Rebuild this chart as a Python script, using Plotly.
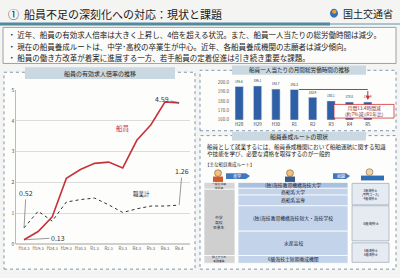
import plotly.graph_objects as go

# ---------------- data ----------------
line_categories = ["H14.3", "H19.3", "H24.3", "H29.3", "H30.3", "R1.3", "R2.3",
                   "R3.3", "R4.3", "R5.3", "R6.3", "R6.4"]
seamen_ratio = [0.13, 0.40, 0.88, 2.13, 2.42, 2.62, 2.66, 2.47, 3.37, 3.88, 4.62, 4.59]
all_jobs_ratio = [0.52, 1.06, 0.74, 1.36, 1.44, 1.49, 1.27, 1.02, 1.14, 1.23, 1.23, 1.26]
line_yticks = [0, 1, 2, 3, 4, 5]

bar_categories = ["H28", "H29", "H30", "R1", "R2", "R3", "R4", "R5"]
work_hours = [195.6, 196.1, 192.7, 192.3, 183.9, 180.1, 178.8, 178.9]
bar_yticks = [160, 170, 180, 190, 200]

FONT = "Noto Sans CJK JP"
W, H = 400, 278


def px(x):
    return x / W


def py(y):
    return 1 - y / H


fig = go.Figure()

# ---------------- line chart ----------------
fig.add_trace(go.Scatter(x=line_categories, y=all_jobs_ratio, mode="lines",
                         line=dict(color="#333333", width=1, dash="dot"),
                         xaxis="x", yaxis="y", showlegend=False))
fig.add_trace(go.Scatter(x=line_categories, y=seamen_ratio, mode="lines",
                         line=dict(color="#c8323c", width=1.6),
                         xaxis="x", yaxis="y", showlegend=False))

# ---------------- bar chart ----------------
fig.add_trace(go.Bar(x=bar_categories, y=work_hours, marker_color="#2f5fa5",
                     width=0.45, text=[f"{v:.1f}" for v in work_hours],
                     textposition="outside", textfont=dict(size=4.2, color="#333"),
                     cliponaxis=False, xaxis="x2", yaxis="y2", showlegend=False))

shapes = []
ann = []


def text(x, y, t, size, color="#222", xa="center", ya="middle", align="center"):
    ann.append(dict(x=px(x), y=py(y), xref="paper", yref="paper", xanchor=xa,
                    yanchor=ya, showarrow=False, text=t, align=align,
                    font=dict(size=size, color=color, family=FONT)))


def rect(x0, y0, x1, y1, fill, line=None, lw=0.7, dash=None, layer="above"):
    ln = dict(width=0) if line is None else dict(color=line, width=lw)
    if dash:
        ln["dash"] = dash
    shapes.append(dict(type="rect", xref="paper", yref="paper", x0=px(x0), x1=px(x1),
                       y0=py(y1), y1=py(y0), fillcolor=fill, line=ln, layer=layer))


# title area
text(6, 10, "①  船員不足の深刻化への対応：現状と課題", 11, "#1a1a1a", xa="left")
text(395, 10, "国土交通省", 10, "#1a1a1a", xa="right")
shapes.append(dict(type="circle", xref="paper", yref="paper", x0=px(330), x1=px(338),
                   y0=py(14), y1=py(5), fillcolor="#2f6fb5", line=dict(width=0)))
shapes.append(dict(type="circle", xref="paper", yref="paper", x0=px(332), x1=px(336.5),
                   y0=py(10), y1=py(6), fillcolor="#f0a030", line=dict(width=0)))
rect(0, 19, 330, 22, "#4f8a9e")
rect(330, 19.5, 400, 21.5, "#a9c4cf")

# bullet box
rect(3, 24, 396, 61, "#fbfbfa", line="#8a8a8a", lw=0.8)
bullets = [
    "・ 近年、船員の有効求人倍率は大きく上昇し、4倍を超える状況。また、船員一人当たりの総労働時間は減少。",
    "・ 現在の船員養成ルートは、中学･高校の卒業生が中心。近年、各船員養成機関の志願者は減少傾向。",
    "・ 船員の働き方改革が着実に進展する一方、若手船員の定着促進は引き続き重要な課題。",
]
for i, b in enumerate(bullets):
    text(6, 31.5 + 11.8 * i, b, 7.5, xa="left")


def panel(x0, y0, x1, y1):
    rect(x0, y0, x1, y1, "#fdfdfc", line="#7f97b3", lw=1, dash="dot", layer="below")


def banner(x0, y0, x1, y1, t, size=6):
    rect(x0, y0, x1, y1, "#cad8e1", layer="below")
    text((x0 + x1) / 2, (y0 + y1) / 2, t, size)


panel(4, 70, 195, 272)
banner(25, 65, 175, 77, "船員の有効求人倍率の推移")
panel(200, 68, 396, 130)
banner(232, 63, 366, 72.5, "船員一人当たりの月間総労働時間の推移", size=5.6)
panel(200, 135, 396, 272)
banner(232, 131, 366, 140, "船員養成ルートの現状", size=5.8)

# line chart annotations
for cat, val, t, ax, ay in [("R6.4", seamen_ratio[-1], "4.59", -17, -4),
                            ("R6.4", all_jobs_ratio[-1], "1.26", 3, -34),
                            ("H14.3", all_jobs_ratio[0], "0.52", 2, -35),
                            ("H14.3", seamen_ratio[0], "0.13", 34, -2)]:
    ann.append(dict(x=cat, y=val, xref="x", yref="y", text=t, showarrow=True,
                    arrowhead=0, arrowwidth=0.6, arrowcolor="#555", ax=ax, ay=ay,
                    font=dict(size=7, color="#333", family=FONT)))
text(123, 127, "船員", 6.5, "#c8323c")
text(141, 195, "職業計", 5.5, "#333")

# bar chart bracket
shapes.append(dict(type="line", xref="x2", yref="y2", x0=3.25, x1=7, y0=work_hours[3],
                   y1=work_hours[3], line=dict(color="#d03030", width=1)))
ann.append(dict(x=7, y=work_hours[-1] + 2.2, xref="x2", yref="y2", ax=7,
                ay=work_hours[3], axref="x2", ayref="y2", showarrow=True, arrowhead=2,
                arrowsize=0.8, arrowwidth=1, arrowcolor="#d03030", text=""))
rect(334, 103, 394, 117, "#ffffff", line="#d03030", lw=0.8)
text(364, 110, "月間13.4時間減<br>(約7%減)(R1年比)", 4.8, "#8a1f1f")

# training route section
text(205, 150.5, "船員として就業するには、船員養成機関において船舶運航に関する知識<br>や技能を学び、必要な資格を取得するのが一般的",
     5.6, xa="left", align="left")
text(203, 165, "【主な船員養成ルート】", 4.5, "#333", xa="left")


def box(x0, y0, x1, y1, fill, t="", size=5, color="#223", line="#ffffff"):
    rect(x0, y0, x1, y1, fill, line=line, lw=0.7)
    if t:
        text((x0 + x1) / 2, (y0 + y1) / 2, t, size, color)


# icons
for cx, body in [(218, "#d05a2a"), (290, "#3a5a8a")]:
    shapes.append(dict(type="circle", xref="paper", yref="paper", x0=px(cx - 3.5),
                       x1=px(cx + 3.5), y0=py(177), y1=py(170), fillcolor="#f2c17a",
                       line=dict(color="#6a4a2a", width=0.5)))
    rect(cx - 5, 177, cx + 5, 183, body)
rect(361, 176, 384, 181, "#2f6fb5")
shapes.append(dict(type="circle", xref="paper", yref="paper", x0=px(366), x1=px(373),
                   y0=py(176), y1=py(169), fillcolor="#f2d3a8",
                   line=dict(color="#6a4a2a", width=0.5)))
# arrows
for x0, x1, t in [(226, 250, "進学"), (333, 350, "就職")]:
    shapes.append(dict(type="path", xref="paper", yref="paper",
                       path=f"M {px(x0)},{py(173.5)} L {px(x1 - 4)},{py(173.5)} L {px(x1)},{py(176.5)} "
                            f"L {px(x1 - 4)},{py(179.5)} L {px(x0)},{py(179.5)} Z",
                       fillcolor="#3f78bf", line=dict(width=0)))
    text((x0 + x1) / 2 - 1, 176.5, t, 4, "#fff")

# left column
box(204, 183, 235, 190, "#d6d6d6", "一般大学卒<br>中学卒", size=2.8)
box(204, 190, 235, 258, "#cfcfcf", "中学<br>高校<br>卒業生", size=3.8)
box(204, 258, 235, 266, "#d6d6d6", "陸上からの<br>転職者等", size=2.8)
# middle column
box(238, 183, 348, 189, "#a9c0de", "(独)海技教育機構海技大学", size=4.8)
box(238, 189, 348, 196, "#c3d4ea", "商船系大学", size=4.8)
box(238, 196, 348, 207, "#c3d4ea", "商船系高専", size=4.8)
box(238, 207, 348, 233, "#c3d4ea", "(独)海技教育機構海技短大・海技学校", size=4.8)
box(238, 233, 348, 258, "#c3d4ea", "水産高校", size=4.8)
box(238, 258, 348, 266, "#c3d4ea", "6級海技士短期養成機関", size=4.8)
# right column
box(352, 184, 389, 206, "#e6ebf2", "3級海技士<br>(専門コース)<br>4級海技士", size=3.0,
    line="#9aa6b4")
box(352, 207, 389, 243, "#e6ebf2", "4級海技士", size=3.5, line="#9aa6b4")
box(352, 245, 389, 265, "#e6ebf2", "5級海技士<br>6級海技士", size=3.0, line="#9aa6b4")

fig.update_layout(
    width=W, height=H, margin=dict(l=0, r=0, t=0, b=0),
    paper_bgcolor="#f4f4f2", plot_bgcolor="rgba(0,0,0,0)",
    font=dict(family=FONT),
    shapes=shapes, annotations=ann, showlegend=False, bargap=0.5,
    xaxis=dict(domain=[px(16), px(190)], range=[-0.57, 11.77], type="category",
               tickfont=dict(size=4.2, color="#555"), showgrid=False, showline=False,
               ticks="", ticklabelstandoff=1),
    yaxis=dict(domain=[py(246), py(88.5)], range=[0, 5], tickvals=line_yticks,
               tickfont=dict(size=5, color="#555"), showgrid=True, gridcolor="#dcdcdc",
               gridwidth=0.6, zeroline=True, zerolinecolor="#cfcfcf", showline=True,
               linecolor="#bbbbbb", linewidth=0.6, ticks=""),
    xaxis2=dict(domain=[px(230), px(377)], range=[-0.5, 7.5], type="category",
                tickfont=dict(size=4.5, color="#333"), showgrid=False, ticks="",
                anchor="y2", ticklabelstandoff=1),
    yaxis2=dict(domain=[py(118.7), py(80.3)], range=[160, 200], tickvals=bar_yticks,
                tickformat=".1f", tickfont=dict(size=4.5, color="#555"),
                showgrid=False, zeroline=False, ticks="", anchor="x2"),
)

fig.write_html("out.html")
